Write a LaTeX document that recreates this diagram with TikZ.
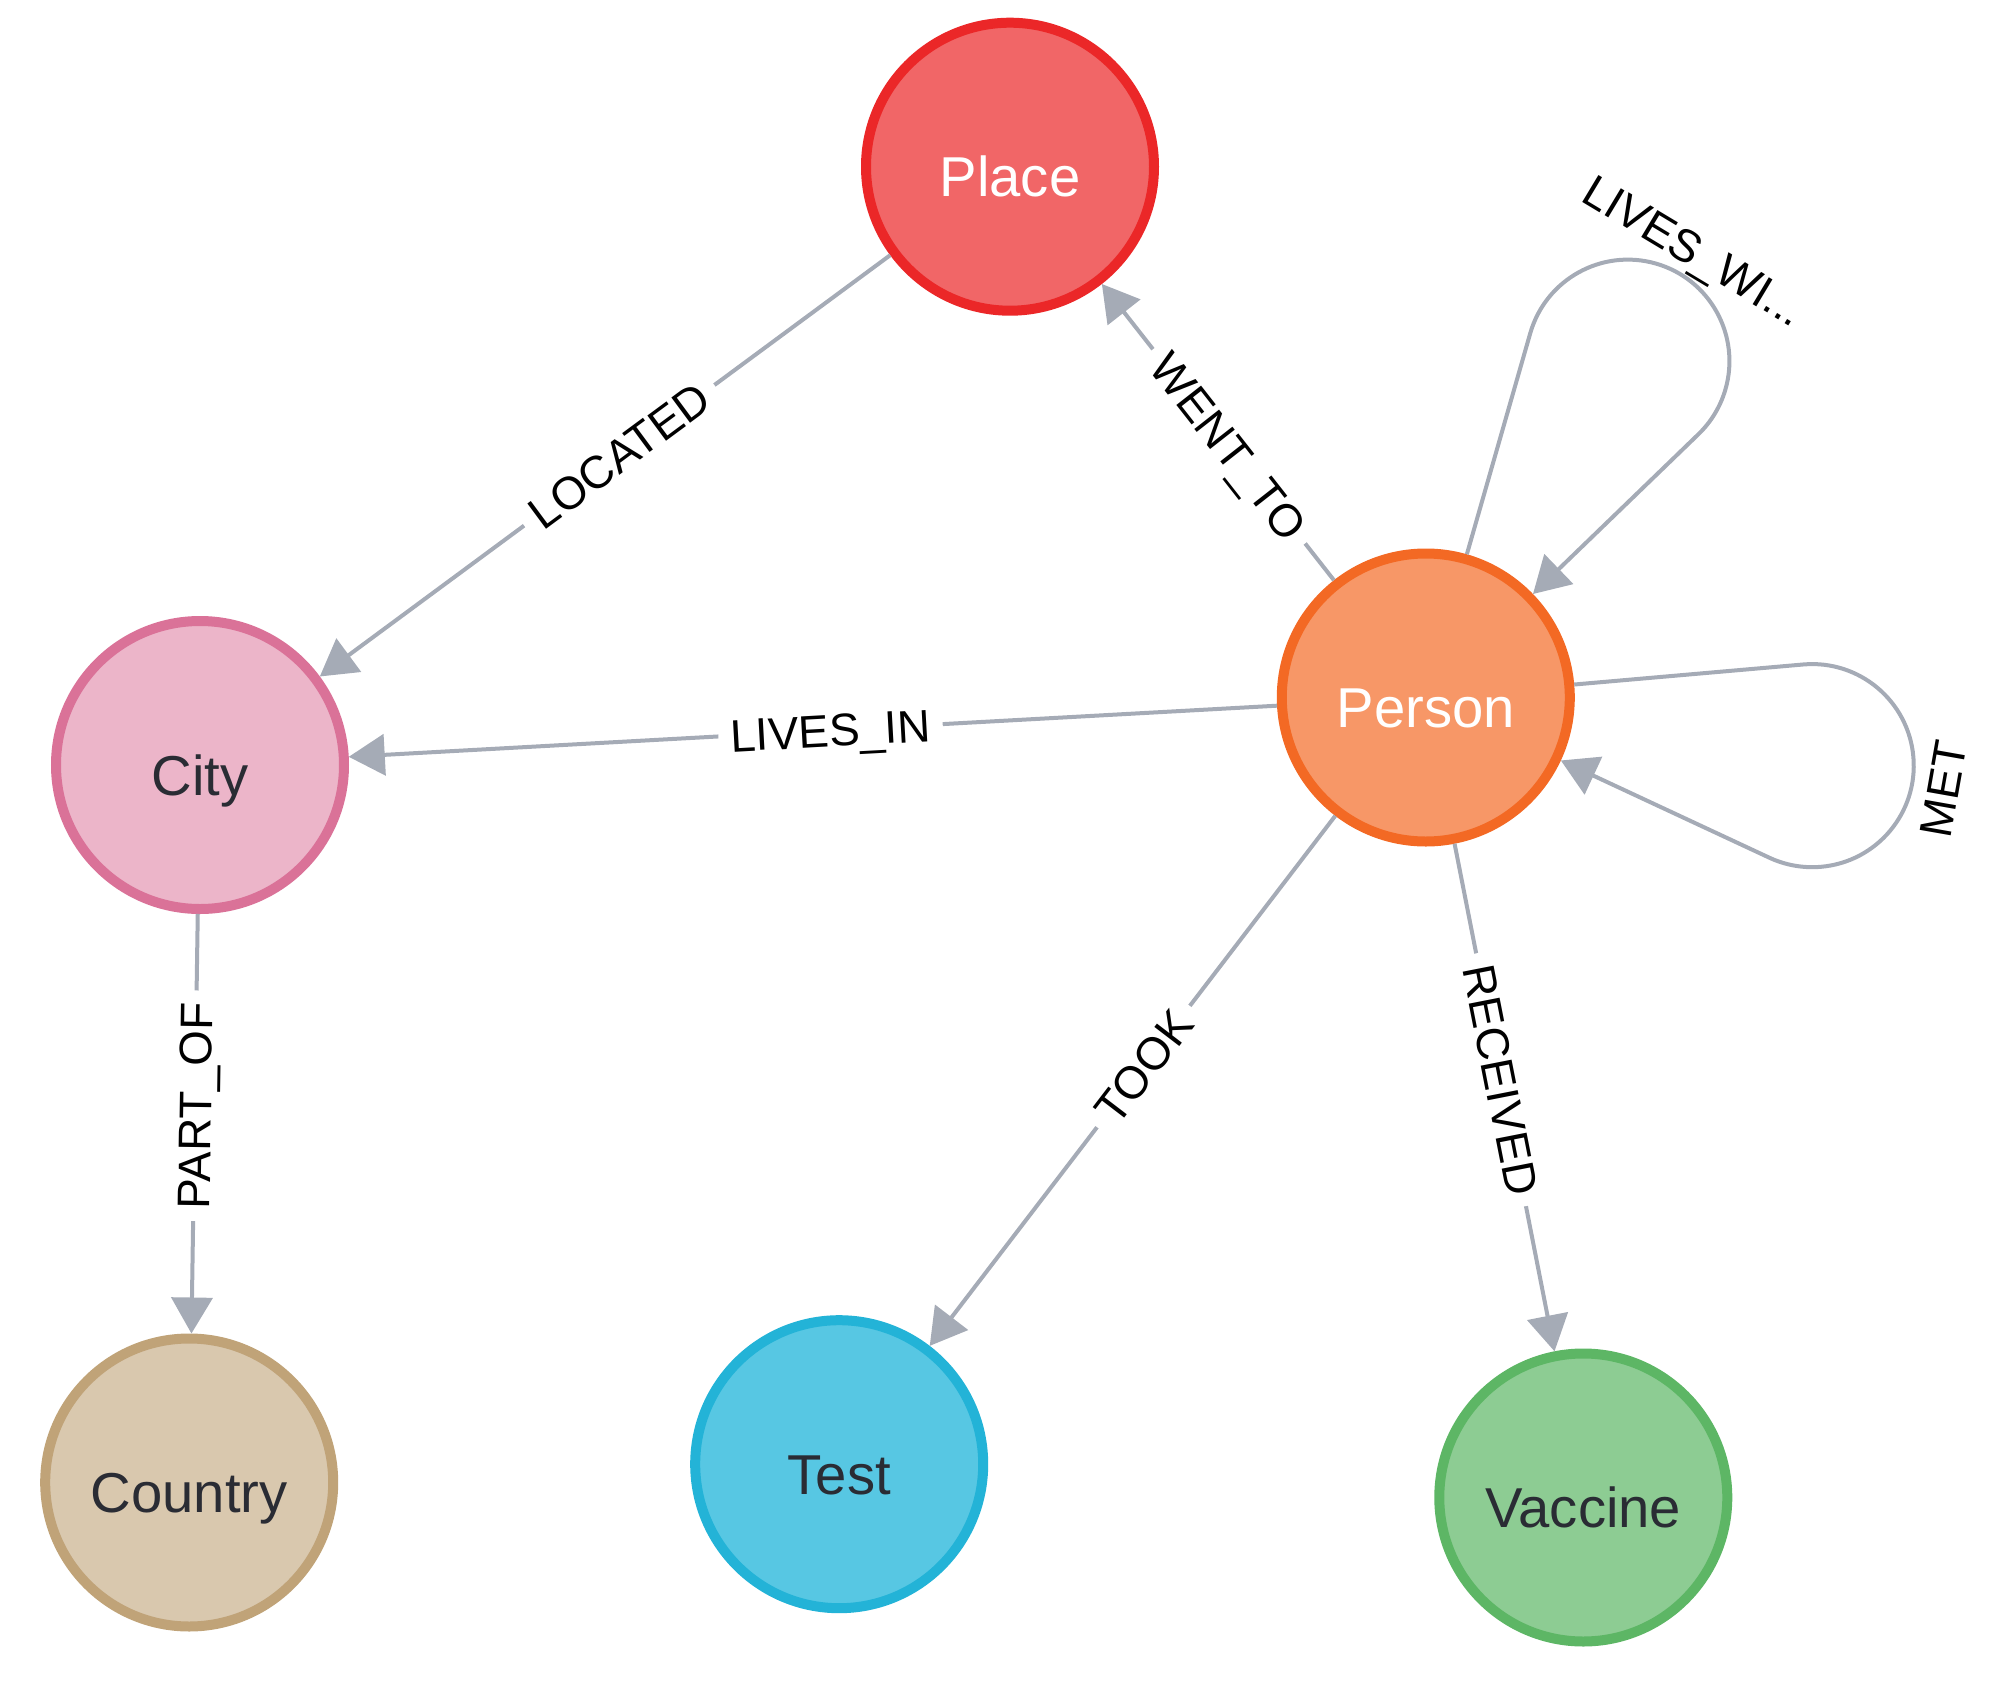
\documentclass[tikz,border=0pt]{standalone}
\usepackage{fontspec}
\setmainfont{Liberation Sans}
\usetikzlibrary{arrows.meta}

\definecolor{edgegray}{HTML}{A5ABB6}
\definecolor{labeldark}{HTML}{2A2C34}
\definecolor{placefill}{HTML}{F16667}
\definecolor{placeline}{HTML}{EB2728}
\definecolor{cityfill}{HTML}{ECB5C9}
\definecolor{cityline}{HTML}{DA7298}
\definecolor{personfill}{HTML}{F79767}
\definecolor{personline}{HTML}{F36924}
\definecolor{countryfill}{HTML}{D9C8AE}
\definecolor{countryline}{HTML}{C0A378}
\definecolor{testfill}{HTML}{57C7E3}
\definecolor{testline}{HTML}{23B3D7}
\definecolor{vaccinefill}{HTML}{8DCC93}
\definecolor{vaccineline}{HTML}{5DB665}

\tikzset{
	graphnode/.style={circle, draw, line width=0.1cm, minimum size=2.88cm, inner sep=0pt,
		text height=0.6cm, text depth=0pt, font=\fontsize{16}{19}\selectfont},
	reledge/.style={draw=edgegray, line width=0.04cm, -{Triangle[length=0.36cm,width=0.41cm]}},
	rellabel/.style={font=\fontsize{13}{15}\selectfont, text height=0.33cm, text depth=0pt,
		inner xsep=0.12cm, inner ysep=0.04cm},
	onedge/.style={rellabel, fill=white, sloped}
}

\begin{document}
\begin{tikzpicture}
	\useasboundingbox (0,0) rectangle (19.99,-16.94);
	
	%circles
	\node[graphnode, draw=placeline, fill=placefill, text=white] (place) at (10.10,-1.667) {Place};
	\node[graphnode, draw=cityline, fill=cityfill, text=labeldark] (city) at (2.00,-7.65) {City};
	\node[graphnode, draw=personline, fill=personfill, text=white] (person) at (14.258,-6.975) {Person};
	\node[graphnode, draw=countryline, fill=countryfill, text=labeldark] (country) at (1.892,-14.825) {Country};
	\node[graphnode, draw=testline, fill=testfill, text=labeldark] (test) at (8.392,-14.642) {Test};
	\node[graphnode, draw=vaccineline, fill=vaccinefill, text=labeldark] (vaccine) at (15.833,-14.975) {Vaccine};
	
	%relationships
	\draw[reledge] (place) -- node[onedge, pos=0.475] {LOCATED} (city);
	\draw[reledge] (person) -- node[onedge, pos=0.452] {WENT\_TO} (place);
	\draw[reledge] (person) -- node[onedge, pos=0.481] {LIVES\_IN} (city);
	\draw[reledge] (city) -- node[onedge, pos=0.457] {PART\_OF} (country);
	\draw[reledge] (person) -- node[onedge, pos=0.473] {TOOK} (test);
	\draw[reledge] (person) -- node[onedge, pos=0.465] {RECEIVED} (vaccine);
	
	%self loops
	\draw[reledge] (person.74) -- ([shift={(74:3.79)}]person.center)
		arc[start angle=164, end angle=-46, radius=1.0155] -- (person.44);
	\node[rellabel, rotate=-31] (liveswithlabel) at ([shift={(59:5.22)}]person.center) {LIVES\_WI...};
	\draw[reledge] (person.5) -- ([shift={(5:3.79)}]person.center)
		arc[start angle=95, end angle=-115, radius=1.0155] -- (person.-25);
	\node[rellabel, rotate=80] (metlabel) at ([shift={(-10:5.25)}]person.center) {MET};
\end{tikzpicture}
\end{document}
